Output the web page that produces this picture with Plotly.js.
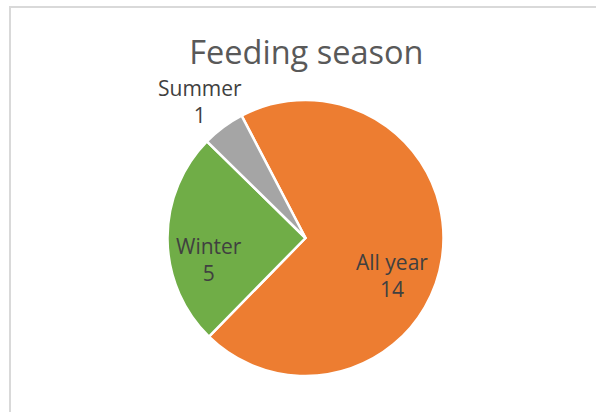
<!DOCTYPE html>
<html>
<head>
<meta charset="utf-8">
<script src="https://cdn.plot.ly/plotly-3.0.1.min.js"></script>
<style>
  html, body { margin: 0; padding: 0; background: #ffffff; }
  #wrap { position: relative; width: 596px; height: 412px; overflow: hidden; }
  #frame { position: absolute; left: 9px; top: 6px; width: 700px; height: 500px;
           border: 2px solid #D9D9D9; box-sizing: border-box; }
  #chart { position: absolute; left: 0; top: 0; width: 596px; height: 412px; }
</style>
</head>
<body>
<div id="wrap">
  <div id="frame"></div>
  <div id="chart"></div>
</div>
<script>
const categories = ["All year", "Winter", "Summer"];
const counts = [14, 5, 1];
const sliceColors = ["#ED7D31", "#70AD47", "#A5A5A5"];
const chartTitle = "Feeding season";

// data-label placement (pixel offsets from the pie centre), layout only
const labelOffsets = [
  { dx: 86, dy: -37 },
  { dx: -97, dy: -21 },
  { dx: -106, dy: 137 }
];

const trace = {
  type: "pie",
  labels: categories,
  values: counts,
  sort: false,
  direction: "clockwise",
  rotation: -27.6,
  marker: { colors: sliceColors, line: { color: "#ffffff", width: 2.5 } },
  textinfo: "none",
  hoverinfo: "none",
  showlegend: false
};

const annotations = categories.map((c, i) => ({
  xref: "paper", yref: "paper",
  x: 0.5, y: 0.5,
  xshift: labelOffsets[i].dx,
  yshift: labelOffsets[i].dy,
  xanchor: "center", yanchor: "middle",
  align: "center",
  showarrow: false,
  text: c + "<br>" + counts[i],
  font: { family: "Open Sans, sans-serif", size: 21, color: "#404040" }
}));

const layout = {
  width: 596,
  height: 412,
  margin: { l: 29, r: 14, t: 100, b: 36 },
  paper_bgcolor: "rgba(0,0,0,0)",
  plot_bgcolor: "rgba(0,0,0,0)",
  showlegend: false,
  annotations: annotations,
  title: {
    text: chartTitle,
    x: 0.514,
    xanchor: "center",
    y: 0.872,
    yanchor: "middle",
    yref: "container",
    font: { family: "Open Sans, sans-serif", size: 32.5, color: "#595959" }
  }
};

Plotly.newPlot("chart", [trace], layout, { displayModeBar: false, staticPlot: true });
</script>
</body>
</html>
